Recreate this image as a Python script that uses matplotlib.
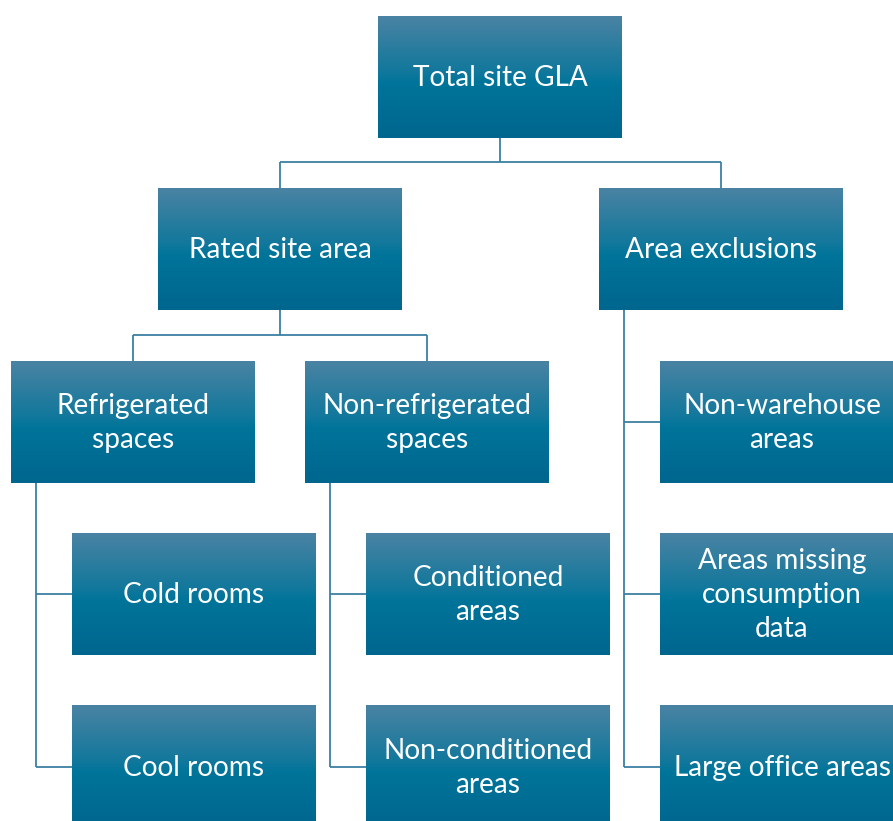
import matplotlib
matplotlib.use("Agg")
import matplotlib.pyplot as plt
import numpy as np
from matplotlib.colors import LinearSegmentedColormap

# ---- content ----
root_label = "Total site GLA"
level1_labels = ["Rated site area", "Area exclusions"]
rated_children = ["Refrigerated\nspaces", "Non-refrigerated\nspaces"]
refrig_children = ["Cold rooms", "Cool rooms"]
nonrefrig_children = ["Conditioned\nareas", "Non-conditioned\nareas"]
exclusion_children = ["Non-warehouse\nareas", "Areas missing\nconsumption\ndata", "Large office areas"]

# ---- layout (pixels) ----
W, H = 893, 821
BW, BH = 244, 122
LINE_C = "#3d7fa1"

fig = plt.figure(figsize=(W / 100, H / 100), dpi=100)
ax = fig.add_axes([0, 0, 1, 1])
ax.set_xlim(0, W)
ax.set_ylim(H, 0)
ax.axis("off")

cmap = LinearSegmentedColormap.from_list(
    "g", [(0.0, "#4a83a3"), (0.45, "#12789c"), (0.55, "#00749a"), (1.0, "#00668e")])
grad = np.linspace(0, 1, 256).reshape(-1, 1)

FONT = ["Lato", "DejaVu Sans"]
FS = 20.2


def box(x, y, label):
    ax.imshow(grad, cmap=cmap, aspect="auto", extent=(x, x + BW, y + BH, y),
              zorder=2, interpolation="bilinear")
    ax.text(x + BW / 2, y + BH / 2 + 1, label, color="white", ha="center", va="center",
            fontsize=FS, family=FONT, linespacing=1.36, zorder=3, clip_on=True)


def line(xs, ys):
    ax.plot(xs, ys, color=LINE_C, lw=1.3, zorder=1, solid_capstyle="butt")


# root
rx, ry = 378, 16
box(rx, ry, root_label)

# level 1
l1 = [(158, 188), (599, 188)]
for (x, y), lab in zip(l1, level1_labels):
    box(x, y, lab)
line([rx + BW / 2, rx + BW / 2], [ry + BH, 162])
line([l1[0][0] + BW / 2, l1[1][0] + BW / 2], [162, 162])
for x, y in l1:
    line([x + BW / 2, x + BW / 2], [162, y])

# level 2 under Rated site area
l2 = [(11, 361), (305, 361)]
for (x, y), lab in zip(l2, rated_children):
    box(x, y, lab)
px = l1[0][0] + BW / 2
line([px, px], [l1[0][1] + BH, 335])
line([l2[0][0] + BW / 2, l2[1][0] + BW / 2], [335, 335])
for x, y in l2:
    line([x + BW / 2, x + BW / 2], [335, y])

# vertical lists
rows_y = [533, 706]
excl_y = [361, 533, 706]


def vlist(parent_x, parent_bottom, child_x, ys, labels):
    sx = parent_x + 25
    mids = [y + BH / 2 for y in ys]
    line([sx, sx], [parent_bottom, mids[-1]])
    for y, m, lab in zip(ys, mids, labels):
        line([sx, child_x], [m, m])
        box(child_x, y, lab)


vlist(l2[0][0], l2[0][1] + BH, 72, rows_y, refrig_children)
vlist(l2[1][0], l2[1][1] + BH, 366, rows_y, nonrefrig_children)
vlist(l1[1][0], l1[1][1] + BH, 660, excl_y, exclusion_children)

fig.savefig("out.png", dpi=100, facecolor="white")
